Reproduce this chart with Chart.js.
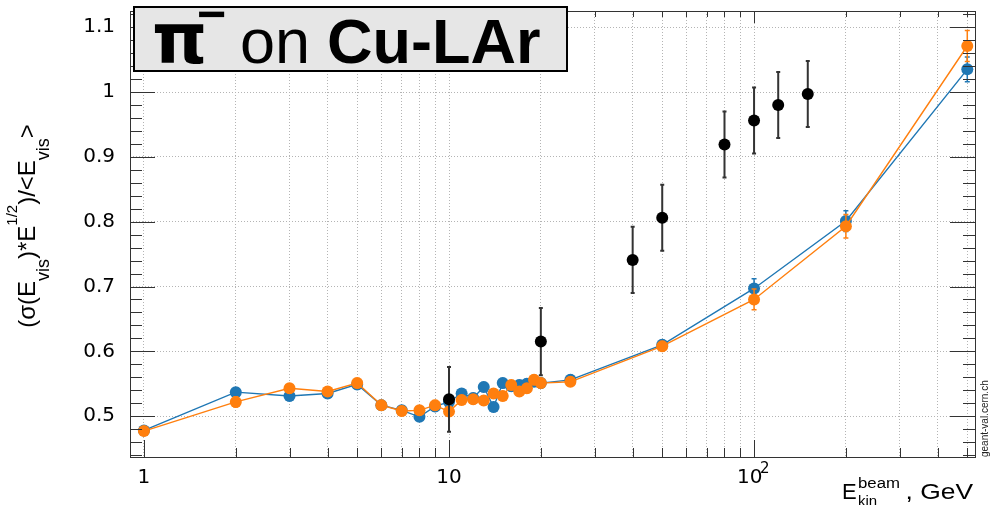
<!DOCTYPE html>
<html>
<head>
<meta charset="utf-8">
<script src="https://cdn.jsdelivr.net/npm/chart.js@4"></script>
<style>
  html, body { margin: 0; padding: 0; background: #fff; }
  canvas { display: block; }
</style>
</head>
<body>
<canvas id="chart" width="990" height="505"></canvas>
<script>
// — Beam energies (GeV) for the two simulated curves —
const energies = [1, 2, 3, 4, 5, 6, 7, 8, 9, 10, 11, 12, 13, 14, 15, 16, 17, 18, 19, 20, 25, 50, 100, 200, 500];

// — Resolution * sqrt(E), blue curve —
const simBlue    = [0.478, 0.537, 0.531, 0.535, 0.549, 0.517, 0.509, 0.499, 0.515, 0.522, 0.535, 0.528, 0.545,
                    0.514, 0.551, 0.546, 0.548, 0.550, 0.553, 0.551, 0.556, 0.610, 0.697, 0.801, 1.035];
const simBlueErr = [0.006, 0.007, 0.007, 0.007, 0.007, 0.007, 0.007, 0.007, 0.007, 0.007, 0.007, 0.007, 0.007,
                    0.007, 0.007, 0.007, 0.007, 0.007, 0.007, 0.007, 0.007, 0.007, 0.015, 0.016, 0.019];

// — Resolution * sqrt(E), orange curve —
const simOrange    = [0.477, 0.522, 0.543, 0.538, 0.551, 0.517, 0.508, 0.509, 0.517, 0.507, 0.525, 0.526, 0.524,
                      0.535, 0.531, 0.548, 0.538, 0.543, 0.556, 0.551, 0.553, 0.608, 0.680, 0.793, 1.071];
const simOrangeErr = [0.006, 0.008, 0.007, 0.007, 0.007, 0.007, 0.007, 0.007, 0.007, 0.007, 0.007, 0.007, 0.007,
                      0.007, 0.007, 0.007, 0.007, 0.007, 0.007, 0.007, 0.007, 0.007, 0.016, 0.018, 0.024];

// — Measured points —
const dataEnergies = [10, 20, 40, 50, 80, 100, 120, 150];
const dataValues   = [0.526, 0.615, 0.741, 0.806, 0.919, 0.956, 0.980, 0.997];
const dataErr      = [0.050, 0.052, 0.051, 0.051, 0.051, 0.051, 0.051, 0.051];

// — Axis ticks —
const xGridValues  = [1, 2, 3, 4, 5, 6, 7, 8, 9, 10, 20, 30, 40, 50, 60, 70, 80, 90, 100, 200, 300, 400, 500];
const xMajorValues = [1, 10, 100];
const yLabelValues = [0.5, 0.6, 0.7, 0.8, 0.9, 1.0, 1.1];

const BLUE = '#1f77b4';
const ORANGE = '#ff7f0e';
const SANS = '"Liberation Sans", Arial, sans-serif';

const toPoints = (xs, ys) => xs.map((x, i) => ({ x, y: ys[i] }));

// — Vertical error bars, drawn just under each dataset's own markers —
const errorBars = {
  id: 'errorBars',
  beforeDatasetDraw(chart, args) {
    const ds = chart.data.datasets[args.index];
    if (!ds.errors) return;
    const { ctx } = chart;
    const yScale = chart.scales.y;
    ctx.save();
    ctx.strokeStyle = ds.errorColor;
    ctx.lineWidth = ds.errorWidth;
    args.meta.data.forEach((pt, i) => {
      const v = ds.data[i].y, e = ds.errors[i];
      const top = yScale.getPixelForValue(v + e);
      const bot = yScale.getPixelForValue(v - e);
      ctx.beginPath();
      ctx.moveTo(pt.x, top); ctx.lineTo(pt.x, bot);
      ctx.moveTo(pt.x - ds.capWidth, top); ctx.lineTo(pt.x + ds.capWidth, top);
      ctx.moveTo(pt.x - ds.capWidth, bot); ctx.lineTo(pt.x + ds.capWidth, bot);
      ctx.stroke();
    });
    ctx.restore();
  }
};

// draws a run of text pieces (normal / sub / superscript) starting at x
function drawPieces(ctx, pieces, x, y) {
  pieces.forEach(p => {
    ctx.font = `${p.size}px ${SANS}`;
    ctx.fillText(p.t, x, y + (p.dy || 0));
    x += ctx.measureText(p.t).width;
  });
}
function piecesWidth(ctx, pieces) {
  return pieces.reduce((w, p) => {
    ctx.font = `${p.size}px ${SANS}`;
    return w + ctx.measureText(p.t).width;
  }, 0);
}

// — Frame, inward ticks, axis labels, titles —
const decorations = {
  id: 'decorations',
  afterDraw(chart) {
    const { ctx, chartArea: a } = chart;
    const xs = chart.scales.x, ys = chart.scales.y;
    ctx.save();

    // frame
    ctx.strokeStyle = '#333';
    ctx.lineWidth = 1;
    ctx.strokeRect(a.left + 0.5, a.top + 0.5, a.right - a.left, a.bottom - a.top);

    // x ticks on bottom and top
    ctx.beginPath();
    xGridValues.forEach(v => {
      const px = Math.round(xs.getPixelForValue(v)) + 0.5;
      const major = xMajorValues.includes(v);
      ctx.moveTo(px, a.bottom); ctx.lineTo(px, a.bottom - (major ? 17 : 9));
      ctx.moveTo(px, a.top); ctx.lineTo(px, a.top + (major ? 12 : 6));
    });
    // y ticks on left and right, minor every 0.02
    for (let k = 22; k <= 56; k++) {
      const v = k / 50;
      const py = Math.round(ys.getPixelForValue(v)) + 0.5;
      const major = k % 5 === 0;
      const len = major ? 25 : 12;
      ctx.moveTo(a.left, py); ctx.lineTo(a.left + len, py);
      ctx.moveTo(a.right, py); ctx.lineTo(a.right - len, py);
    }
    ctx.stroke();

    // x tick labels
    ctx.fillStyle = '#000';
    ctx.textBaseline = 'alphabetic';
    ctx.textAlign = 'center';
    ctx.font = '20px "DejaVu Sans"';
    ctx.fillText('1', xs.getPixelForValue(1), 483);
    ctx.fillText('10', xs.getPixelForValue(10), 483);
    const p100 = xs.getPixelForValue(100);
    ctx.textAlign = 'left';
    ctx.fillText('10', p100 - 17, 483);
    ctx.font = '15px "DejaVu Sans"';
    ctx.fillText('2', p100 + 6, 473);

    // x axis title
    ctx.font = `22px ${SANS}`;
    ctx.fillText('E', 842, 499);
    ctx.save();
    ctx.translate(858, 488); ctx.scale(1.2, 1);
    ctx.font = `14px ${SANS}`;
    ctx.fillText('beam', 0, 0);
    ctx.restore();
    ctx.font = `15px ${SANS}`;
    ctx.fillText('kin', 858, 506);
    ctx.save();
    ctx.translate(973, 499); ctx.scale(1.2, 1);
    ctx.textAlign = 'right';
    ctx.font = `22px ${SANS}`;
    ctx.fillText(', GeV', 0, 0);
    ctx.restore();

    // y axis title, rotated
    const yTitle = [
      { t: '(σ(E', size: 24 }, { t: 'vis', size: 18, dy: 14 },
      { t: ')*E', size: 24 }, { t: '1/2', size: 15, dy: -18 },
      { t: ')/<E', size: 24 }, { t: 'vis', size: 18, dy: 14 },
      { t: '>', size: 24 }
    ];
    ctx.save();
    ctx.translate(35, 226);
    ctx.rotate(-Math.PI / 2);
    ctx.textAlign = 'left';
    drawPieces(ctx, yTitle, -piecesWidth(ctx, yTitle) / 2, 0);
    ctx.restore();

    // title box
    ctx.fillStyle = '#e6e6e6';
    ctx.fillRect(134, 7, 433, 64);
    ctx.strokeStyle = '#000';
    ctx.lineWidth = 2;
    ctx.strokeRect(134, 7, 433, 64);
    ctx.fillStyle = '#000';
    ctx.textAlign = 'left';
    ctx.font = 'bold 70px "DejaVu Sans"';
    ctx.fillText('π', 152, 63);
    ctx.font = `bold 50px ${SANS}`;
    ctx.fillText('−', 197, 31);
    ctx.font = `63px ${SANS}`;
    ctx.fillText('on', 240, 63);
    ctx.font = `bold 63px ${SANS}`;
    ctx.fillText('Cu-LAr', 327, 63);

    // site mark along the right edge
    ctx.save();
    ctx.translate(988, 457);
    ctx.rotate(-Math.PI / 2);
    ctx.fillStyle = '#222';
    ctx.font = `10px ${SANS}`;
    ctx.fillText('geant-val.cern.ch', 0, 0);
    ctx.restore();

    ctx.restore();
  }
};

const gridStyle = { color: '#b4b4b4', lineWidth: 1, drawTicks: false };

new Chart(document.getElementById('chart'), {
  type: 'line',
  data: {
    datasets: [
      {
        data: toPoints(dataEnergies, dataValues),
        errors: dataErr, errorColor: '#333', errorWidth: 2, capWidth: 2,
        showLine: false, pointRadius: 6, pointHoverRadius: 6,
        backgroundColor: '#000', borderColor: '#000', pointBorderWidth: 0,
        order: 0
      },
      {
        data: toPoints(energies, simOrange),
        errors: simOrangeErr, errorColor: ORANGE, errorWidth: 1.5, capWidth: 2.5,
        borderColor: ORANGE, backgroundColor: ORANGE, borderWidth: 1.4,
        pointRadius: 6, pointHoverRadius: 6, pointBorderWidth: 0,
        tension: 0, order: 1
      },
      {
        data: toPoints(energies, simBlue),
        errors: simBlueErr, errorColor: BLUE, errorWidth: 1.5, capWidth: 2.5,
        borderColor: BLUE, backgroundColor: BLUE, borderWidth: 1.4,
        pointRadius: 6, pointHoverRadius: 6, pointBorderWidth: 0,
        tension: 0, order: 2
      }
    ]
  },
  options: {
    responsive: false,
    animation: false,
    devicePixelRatio: 1,
    layout: { padding: { left: 0, top: 11, right: 15, bottom: 0 } },
    plugins: { legend: { display: false }, tooltip: { enabled: false } },
    scales: {
      x: {
        type: 'logarithmic', min: 0.9, max: 530,
        afterBuildTicks: s => { s.ticks = xGridValues.map(v => ({ value: v })); },
        afterFit: s => { s.height = 48; s.paddingLeft = 0; s.paddingRight = 0; },
        grid: gridStyle,
        border: { display: false, dash: [1, 2] },
        ticks: { display: false }
      },
      y: {
        type: 'linear', min: 0.437, max: 1.125,
        afterBuildTicks: s => { s.ticks = yLabelValues.map(v => ({ value: v })); },
        afterFit: s => { s.width = 130; s.paddingTop = 0; s.paddingBottom = 0; },
        grid: gridStyle,
        border: { display: false, dash: [1, 2] },
        ticks: {
          padding: 15, color: '#000',
          font: { family: 'DejaVu Sans', size: 20 },
          callback: v => (v === 1 ? '1' : v.toFixed(1))
        }
      }
    }
  },
  plugins: [errorBars, decorations]
});
</script>
</body>
</html>
